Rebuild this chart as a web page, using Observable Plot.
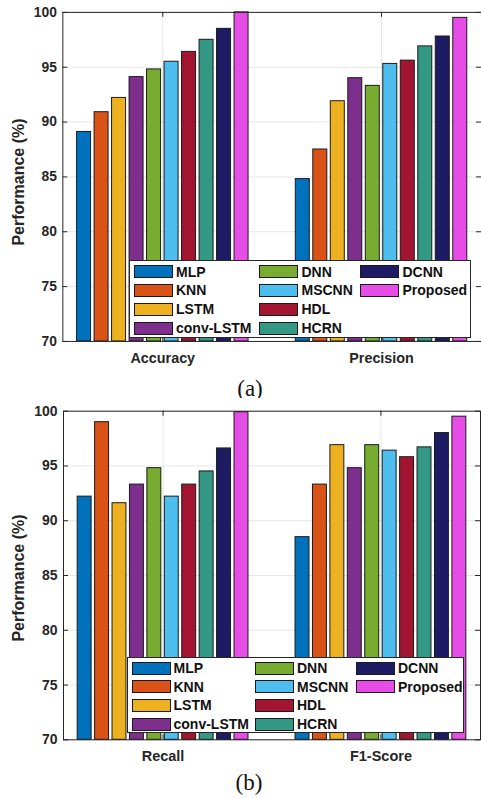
<!DOCTYPE html>
<html>
<head>
<meta charset="utf-8">
<script src="https://cdn.jsdelivr.net/npm/d3@7"></script>
<script src="https://cdn.jsdelivr.net/npm/@observablehq/plot@0.6"></script>
<style>
  html, body { margin: 0; padding: 0; background: #fff; }
  #wrap { position: relative; width: 481px; height: 798px; overflow: hidden; background: #fff; font-family: "Liberation Sans", Arial, sans-serif; }
  .chart { position: absolute; left: 0; }
  .cap { position: absolute; font-family: "Liberation Serif", "Times New Roman", serif; font-size: 23px; color: #111; transform: translate(-50%, -50%); white-space: nowrap; }
  .ylab { position: absolute; font-family: "Liberation Sans", Arial, sans-serif; font-weight: bold; font-size: 16px; color: #262626; transform: translate(-50%, -50%) rotate(-90deg); white-space: nowrap; }
  .legend { position: absolute; background: #fff; border: 1px solid #262626; box-sizing: border-box; }
  .sw { position: absolute; width: 39px; height: 13px; border: 1px solid #1a1a1a; box-sizing: border-box; }
  .lt { position: absolute; font-weight: bold; font-size: 14px; color: #111; line-height: 16px; white-space: nowrap; }
</style>
</head>
<body>
<div id="wrap"></div>
<script>
const models = ["MLP", "KNN", "LSTM", "conv-LSTM", "DNN", "MSCNN", "HDL", "HCRN", "DCNN", "Proposed"];
const colors = ["#0072BD", "#D95319", "#EDB120", "#7E2F8E", "#77AC30", "#4DBEEE", "#A2142F", "#339985", "#1C1B64", "#E64CE6"];

const metricsA = ["Accuracy", "Precision"];
const accuracy = [89.1, 90.9, 92.2, 94.1, 94.8, 95.5, 96.4, 97.5, 98.5, 100.0];
const precision = [84.8, 87.5, 91.9, 94.0, 93.3, 95.3, 95.6, 96.9, 97.8, 99.5];

const metricsB = ["Recall", "F1-Score"];
const recall = [92.2, 99.0, 91.6, 93.3, 94.8, 92.2, 93.3, 94.5, 96.6, 99.9];
const f1score = [88.5, 93.3, 96.9, 94.8, 96.9, 96.4, 95.8, 96.7, 98.0, 99.5];

const yTicks = [70, 75, 80, 85, 90, 95, 100];
const yLabel = "Performance (%)";

const wrap = document.getElementById("wrap");

function buildRows(metrics, series) {
  const rows = [];
  metrics.forEach((m, g) => {
    series[g].forEach((v, i) => rows.push({metric: m, group: g + 1, idx: i, model: models[i], value: v}));
  });
  return rows;
}

const PITCH = 0.08, BW = 0.064;

function makeChart(metrics, series, width, marginRight, marginTop, plotH) {
  const marginLeft = 63, marginBottom = 30;
  const height = marginTop + plotH + marginBottom;
  const plotW = width - marginLeft - marginRight;
  const rows = buildRows(metrics, series);
  const gx = [1, 2];
  return Plot.plot({
    width, height, marginLeft, marginRight, marginTop, marginBottom,
    style: {fontFamily: "'Liberation Sans', Arial, sans-serif", background: "#fff", color: "#262626"},
    x: {domain: [0.543, 2.457]},
    y: {domain: [70, 100]},
    color: {domain: models, range: colors},
    marks: [
      Plot.gridY(yTicks, {stroke: "#000", strokeOpacity: 0.1}),
      Plot.gridX(gx, {stroke: "#000", strokeOpacity: 0.1}),
      Plot.rectY(rows, {
        x1: d => d.group + (d.idx - 4.5) * PITCH - BW / 2,
        x2: d => d.group + (d.idx - 4.5) * PITCH + BW / 2,
        y1: 70, y2: "value", fill: "model", stroke: "#1a1a1a", strokeWidth: 1
      }),
      Plot.ruleY(yTicks, {stroke: "#262626", insetRight: plotW - 5}),
      Plot.ruleY(yTicks, {stroke: "#262626", insetLeft: plotW - 5}),
      Plot.ruleX(gx, {stroke: "#262626", insetBottom: plotH - 5}),
      Plot.ruleX(gx, {stroke: "#262626", insetTop: plotH - 5}),
      Plot.frame({stroke: "#262626"}),
      Plot.axisY(yTicks, {tickSize: 0, tickPadding: 6, fontWeight: "bold", fontSize: 14, fill: "#262626", label: null}),
      Plot.axisX(gx, {tickSize: 0, tickPadding: 11, fontWeight: "bold", fontSize: 14.5, fill: "#262626", label: null, tickFormat: d => metrics[d - 1]})
    ]
  });
}

function addLegend(left, top, w, h, colX, textDX, row0, rowPitch) {
  const box = document.createElement("div");
  box.className = "legend";
  Object.assign(box.style, {left: left + "px", top: top + "px", width: w + "px", height: h + "px"});
  models.forEach((m, i) => {
    const c = Math.floor(i / 4), r = i % 4;
    const cy = row0 + r * rowPitch;
    const sw = document.createElement("div");
    sw.className = "sw";
    Object.assign(sw.style, {left: colX[c] + "px", top: (cy - 6.5) + "px", background: colors[i]});
    const t = document.createElement("div");
    t.className = "lt";
    t.textContent = m;
    Object.assign(t.style, {left: (colX[c] + textDX) + "px", top: (cy - 8) + "px"});
    box.appendChild(sw);
    box.appendChild(t);
  });
  wrap.appendChild(box);
}

function addText(cls, text, x, y) {
  const d = document.createElement("div");
  d.className = cls;
  d.textContent = text;
  d.style.left = x + "px";
  d.style.top = y + "px";
  wrap.appendChild(d);
}

// Panel (a)
const chartA = makeChart(metricsA, [accuracy, precision], 486, 0, 12, 332.5);
chartA.classList.add("chart");
chartA.style.top = "0px";
wrap.appendChild(chartA);
addLegend(129, 260, 342, 78, [3.5, 129, 230], 42.5, 10.5, 18.9);
addText("ylab", yLabel, 19, 182);
addText("cap", "(a)", 250, 389);

// Panel (b)
const chartB = makeChart(metricsB, [recall, f1score], 481, 1, 12.7, 328.6);
chartB.classList.add("chart");
chartB.style.top = "398px";
wrap.appendChild(chartB);
addLegend(127, 657, 337, 76, [3.5, 127, 228], 42, 10, 18.7);
addText("ylab", yLabel, 19, 578);
addText("cap", "(b)", 249, 783);
</script>
</body>
</html>
